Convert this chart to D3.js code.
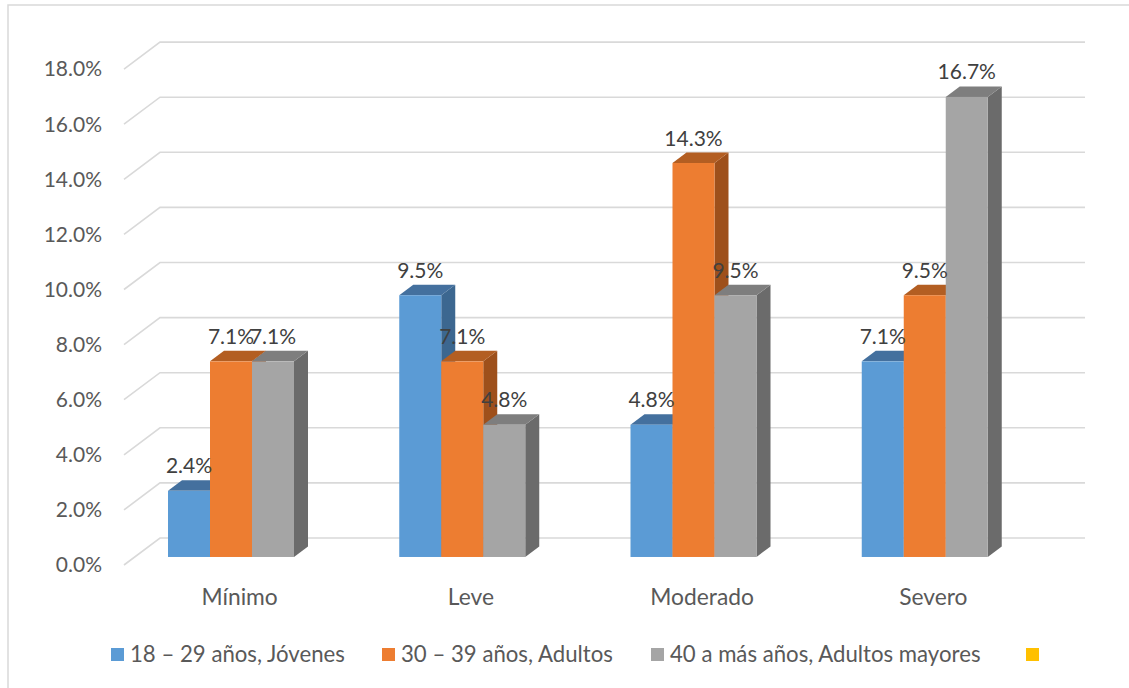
<!DOCTYPE html>
<html>
<head>
<meta charset="utf-8">
<script src="https://cdn.jsdelivr.net/npm/d3@7/dist/d3.min.js"></script>
<style>
  html, body { margin: 0; padding: 0; background: #fff; }
  svg { display: block; }
  text { font-family: Lato, "Open Sans", sans-serif; }
</style>
</head>
<body>
<svg id="chart" width="1129" height="688"></svg>
<script>
const categories = ["Mínimo", "Leve", "Moderado", "Severo"];
const seriesNames = ["18 – 29 años, Jóvenes", "30 – 39 años, Adultos", "40 a más años, Adultos mayores"];
const jovenes = [2.4, 9.5, 4.8, 7.1];
const adultos = [7.1, 7.1, 14.3, 9.5];
const mayores = [7.1, 4.8, 9.5, 16.7];
const yTicks = [0, 2, 4, 6, 8, 10, 12, 14, 16, 18];
const seriesValues = [jovenes, adultos, mayores];

const front = ["#5B9BD5", "#ED7D31", "#A5A5A5"];
const topC = ["#44709E", "#B35E22", "#7E7E7E"];
const sideC = ["#3C6790", "#9E501B", "#6B6B6B"];
const legendExtra = "#FFC000";

const svg = d3.select("#chart");
const NUMFONT = 21;
const TXTFONT = 22.8;
const LEGFONT = 22.2;

// chart border
svg.append("rect").attr("x", 8).attr("y", 5).attr("width", 1140).attr("height", 700)
  .attr("fill", "none").attr("stroke", "#d9d9d9").attr("stroke-width", 1.5);

// scales
const x = d3.scaleBand().domain(categories).range([124, 1049]).padding(0);
const y = d3.scaleLinear().domain([0, 18]).range([565, 565 - 18 * 27.55]);
const xs = d3.scaleBand().domain(d3.range(3)).range([0, 126]).padding(0);

const DEPTH = 36, K = 0.75;
const P = (px, v, z) => [px + z, y(v) - K * z];

// gridlines (floor diagonal + back wall)
const g = svg.append("g");
yTicks.forEach(t => {
  const a = P(124, t, 0), b = P(124, t, DEPTH), c = P(1049, t, DEPTH);
  g.append("path").attr("d", `M${a[0]},${a[1]}L${b[0]},${b[1]}L${c[0]},${c[1]}`)
    .attr("fill", "none").attr("stroke", "#d9d9d9").attr("stroke-width", 1.6);
  g.append("text").attr("x", 102).attr("y", a[1]).attr("dy", "0.35em")
    .attr("text-anchor", "end").attr("font-size", NUMFONT).attr("fill", "#595959")
    .text(t.toFixed(1) + "%");
});

// bars
const zF = 10.7, zB = 24.7, OFF = 33.3;
const bars = svg.append("g");
categories.forEach((cat, ci) => {
  seriesValues.forEach((vals, si) => {
    const v = vals[ci];
    const x0 = x(cat) + OFF + xs(si), x1 = x0 + xs.bandwidth();
    const fbl = P(x0, 0, zF), ftl = P(x0, v, zF), ftr = P(x1, v, zF), fbr = P(x1, 0, zF);
    const btl = P(x0, v, zB), btr = P(x1, v, zB), bbr = P(x1, 0, zB);
    bars.append("path").attr("d", `M${fbr}L${ftr}L${btr}L${bbr}Z`).attr("fill", sideC[si]);
    bars.append("path").attr("d", `M${ftl}L${btl}L${btr}L${ftr}Z`).attr("fill", topC[si]);
    bars.append("rect").attr("x", fbl[0]).attr("y", ftl[1]).attr("width", x1 - x0)
      .attr("height", fbl[1] - ftl[1]).attr("fill", front[si]);
  });
});
// data labels
categories.forEach((cat, ci) => {
  seriesValues.forEach((vals, si) => {
    const v = vals[ci];
    const cx = x(cat) + OFF + xs(si) + xs.bandwidth() / 2 + zF;
    const ty = y(v) - K * zB - 7;
    svg.append("text").attr("x", cx).attr("y", ty).attr("text-anchor", "middle")
      .attr("font-size", NUMFONT).attr("fill", "#404040").text(v.toFixed(1) + "%");
  });
});

// category labels
categories.forEach(cat => {
  svg.append("text").attr("x", x(cat) + x.bandwidth() / 2).attr("y", 605)
    .attr("text-anchor", "middle").attr("font-size", TXTFONT).attr("fill", "#595959").text(cat);
});

// legend
const legendX = [111, 382, 651, 1026];
const legColors = front.concat([legendExtra]);
const legNames = seriesNames.concat([""]);
legNames.forEach((n, i) => {
  svg.append("rect").attr("x", legendX[i]).attr("y", 648).attr("width", 13).attr("height", 13)
    .attr("fill", legColors[i]);
  if (n) svg.append("text").attr("x", legendX[i] + 19).attr("y", 662)
    .attr("font-size", LEGFONT).attr("fill", "#595959").text(n);
});
</script>
</body>
</html>
